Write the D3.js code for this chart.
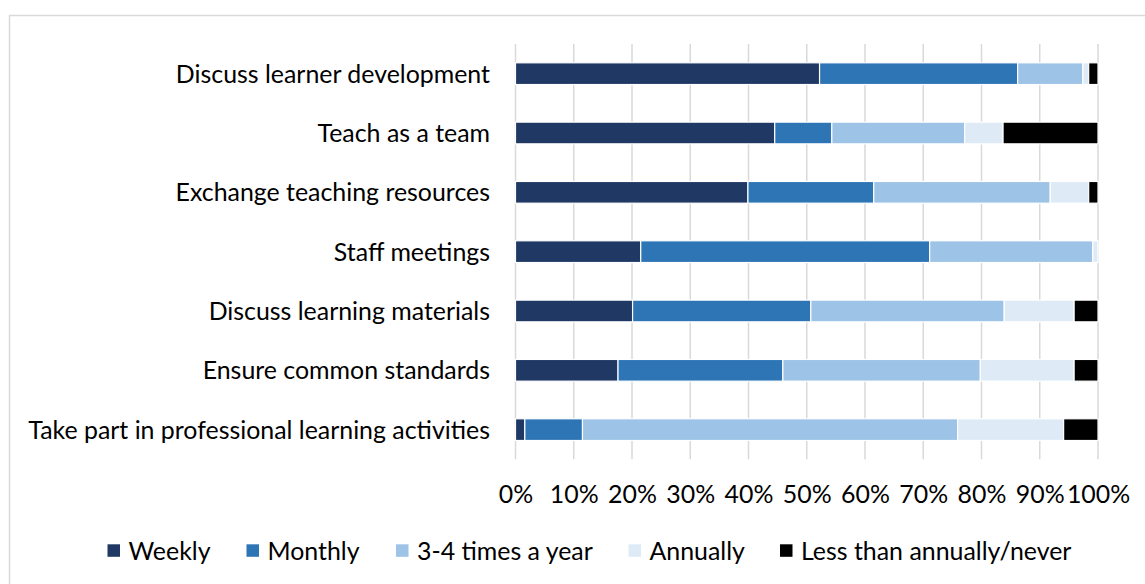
<!DOCTYPE html>
<html>
<head>
<meta charset="utf-8">
<script src="https://cdn.jsdelivr.net/npm/d3@7"></script>
<style>
  html, body { margin: 0; padding: 0; background: #fff; }
  svg { display: block; }
  text { font-family: Lato, "Open Sans", sans-serif; fill: #000; }
</style>
</head>
<body>
<svg id="chart" width="1145" height="584"></svg>
<script>
const categories = [
  "Discuss learner development",
  "Teach as a team",
  "Exchange teaching resources",
  "Staff meetings",
  "Discuss learning materials",
  "Ensure common standards",
  "Take part in professional learning activities"
];
const seriesNames = ["Weekly", "Monthly", "3-4 times a year", "Annually", "Less than annually/never"];
const weekly    = [52.2, 44.5, 39.9, 21.5, 20.1, 17.6, 1.6];
const monthly   = [34.0,  9.8, 21.6, 49.6, 30.6, 28.3, 9.9];
const quarterly = [11.2, 22.8, 30.3, 28.0, 33.2, 33.9, 64.4];
const annually  = [ 1.0,  6.6,  6.6,  0.9, 12.0, 16.1, 18.2];
const never     = [ 1.6, 16.3,  1.6,  0.0,  4.1,  4.1,  5.9];
const tickValues = [0, 10, 20, 30, 40, 50, 60, 70, 80, 90, 100];
const tickLabels = ["0%", "10%", "20%", "30%", "40%", "50%", "60%", "70%", "80%", "90%", "100%"];

const colors = ["#203864", "#2E75B6", "#9DC3E6", "#DEEBF7", "#000000"];
const keys = ["weekly", "monthly", "quarterly", "annually", "never"];

const rows = categories.map((c, i) => ({
  category: c,
  weekly: weekly[i], monthly: monthly[i], quarterly: quarterly[i],
  annually: annually[i], never: never[i]
}));

const svg = d3.select("#chart");

// outer chart border
svg.append("rect")
  .attr("x", 9.5).attr("y", 15.5)
  .attr("width", 1300).attr("height", 700)
  .attr("fill", "none").attr("stroke", "#D9D9D9").attr("stroke-width", 1.5);

const x = d3.scaleLinear().domain([0, 100]).range([515.5, 1098]);
const y = d3.scaleBand().domain(categories).range([44, 459.3])
  .paddingInner(0.634).paddingOuter(0.317);

// font size fitted so the longest label spans the reference width
const probe = svg.append("text").attr("font-size", 100).text(categories[6]);
const w100 = probe.node().getComputedTextLength();
probe.remove();
const fs = Math.min(26, 100 * 462 / w100);

// gridlines
svg.append("g")
  .selectAll("line")
  .data(tickValues)
  .join("line")
  .attr("x1", d => x(d)).attr("x2", d => x(d))
  .attr("y1", 44).attr("y2", 459.3)
  .attr("stroke", "#D9D9D9").attr("stroke-width", 1.5);

// bars
const stack = d3.stack().keys(keys);
const stacked = stack(rows);
svg.append("g")
  .selectAll("g")
  .data(stacked)
  .join("g")
  .attr("fill", (d, i) => colors[i])
  .selectAll("rect")
  .data(d => d)
  .join("rect")
  .attr("x", d => x(d[0]))
  .attr("y", d => y(d.data.category))
  .attr("width", d => Math.max(0, x(d[1]) - x(d[0])))
  .attr("height", y.bandwidth())
  .attr("stroke", "#fff").attr("stroke-width", 1.2);

// category labels
svg.append("g")
  .selectAll("text")
  .data(categories)
  .join("text")
  .attr("x", 490)
  .attr("y", d => y(d) + y.bandwidth() / 2)
  .attr("dy", "0.36em")
  .attr("text-anchor", "end")
  .attr("font-size", fs)
  .text(d => d);

// x axis tick labels
const xAxis = d3.axisBottom(x).tickValues(tickValues).tickFormat((d, i) => tickLabels[i]).tickSize(0).tickPadding(0);
const axisG = svg.append("g").attr("transform", "translate(0,484)").call(xAxis);
axisG.select(".domain").remove();
axisG.selectAll("text")
  .attr("font-size", fs)
  .attr("font-family", "Lato, 'Open Sans', sans-serif")
  .attr("fill", "#000")
  .attr("y", 0).attr("dy", "0.75em");

// legend
const legendX = [107.5, 246.5, 396, 628.5, 780];
const lg = svg.append("g").selectAll("g")
  .data(seriesNames)
  .join("g")
  .attr("transform", (d, i) => `translate(${legendX[i]},544.3)`);
lg.append("rect")
  .attr("width", 12.5).attr("height", 12.5)
  .attr("fill", (d, i) => colors[i]);
lg.append("text")
  .attr("x", 21)
  .attr("y", 6.25)
  .attr("dy", "0.36em")
  .attr("font-size", fs)
  .text(d => d);
</script>
</body>
</html>
